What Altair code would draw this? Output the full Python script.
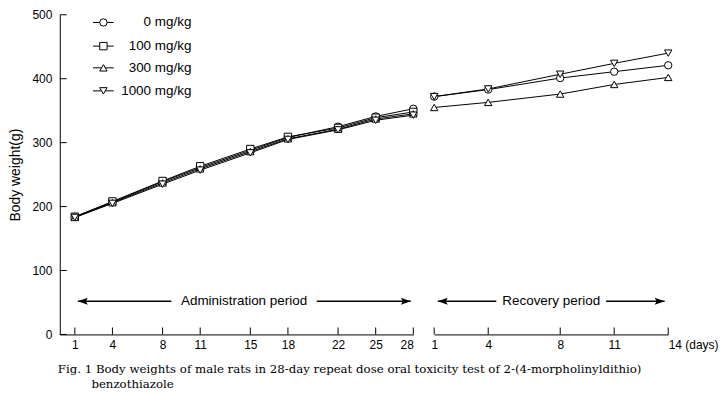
import altair as alt
import pandas as pd

doses = ["0 mg/kg", "100 mg/kg", "300 mg/kg", "1000 mg/kg"]
shapes = ["circle", "square", "triangle-up", "triangle-down"]

admin_days = [1, 4, 8, 11, 15, 18, 22, 25, 28]
admin_0 = [184, 207, 239, 261, 288, 308, 325, 341, 353]
admin_100 = [184, 208, 240, 263, 290, 309, 323, 339, 348]
admin_300 = [183, 206, 237, 259, 286, 306, 321, 337, 345]
admin_1000 = [183, 205, 235, 257, 284, 305, 320, 335, 343]

rec_days = [1, 4, 8, 11, 14]
rec_doses = ["0 mg/kg", "300 mg/kg", "1000 mg/kg"]
rec_0 = [372, 383, 401, 411, 421]
rec_300 = [355, 363, 376, 391, 402]
rec_1000 = [372, 384, 407, 424, 440]

y_ticks = [0, 100, 200, 300, 400, 500]

caption1 = "Fig. 1\u00a0Body weights of male rats in 28-day repeat dose oral toxicity test of 2-(4-morpholinyldithio)"
caption2 = "\u200b" + "\u00a0" * 9 + "benzothiazole"

# ---- tables ----
admin_rows = []
for d, vals in zip(doses, [admin_0, admin_100, admin_300, admin_1000]):
    for day, v in zip(admin_days, vals):
        admin_rows.append({"dose": d, "day": day, "weight": v})
admin_df = pd.DataFrame(admin_rows)

rec_rows = []
for d, vals in zip(rec_doses, [rec_0, rec_300, rec_1000]):
    for day, v in zip(rec_days, vals):
        rec_rows.append({"dose": d, "day": day, "weight": v})
rec_df = pd.DataFrame(rec_rows)

legend_df = pd.DataFrame({"dose": doses, "ly": [488, 451, 417, 381]})

W1, W2, H = 355, 235, 321
xs1 = alt.Scale(domain=[-0.2, 28], nice=False, zero=False)
xs2 = alt.Scale(domain=[1, 14], nice=False, zero=False)
ys = alt.Scale(domain=[0, 500], nice=False)
shape_scale = alt.Scale(domain=doses, range=shapes)

FONT = "Liberation Sans"

left_x_axis = alt.Axis(values=admin_days, ticks=False, tickSize=0, labelPadding=5,
                       grid=False, title=None, labelFontSize=12)
left_y_axis = alt.Axis(values=y_ticks, ticks=False, tickSize=0, labelPadding=8, grid=False,
                       title="Body weight(g)", titleFontSize=14, titleFontWeight="normal",
                       titlePadding=9, labelFontSize=12)

pt_kwargs = dict(filled=True, fill="white", stroke="black", strokeWidth=1, size=55, opacity=1)

base1 = alt.Chart(admin_df)
lines1 = base1.mark_line(color="black", strokeWidth=1).encode(
    x=alt.X("day:Q", scale=xs1, axis=left_x_axis),
    y=alt.Y("weight:Q", scale=ys, axis=left_y_axis),
    detail="dose:N",
)
points1 = base1.mark_point(**pt_kwargs).encode(
    x=alt.X("day:Q", scale=xs1),
    y=alt.Y("weight:Q", scale=ys),
    shape=alt.Shape("dose:N", scale=shape_scale, legend=None),
)

# legend (drawn by hand)
lbase = alt.Chart(legend_df)
leg_rule = lbase.mark_rule(color="black", strokeWidth=1).encode(
    x=alt.datum(2.45), x2=alt.datum(4.1), y=alt.Y("ly:Q", scale=ys))
leg_pt = lbase.mark_point(**pt_kwargs).encode(
    x=alt.datum(3.28), y=alt.Y("ly:Q", scale=ys),
    shape=alt.Shape("dose:N", scale=shape_scale, legend=None))
leg_txt = lbase.mark_text(align="right", baseline="middle", font=FONT, fontSize=13.5, color="black").encode(
    x=alt.datum(10.3), y=alt.Y("ly:Q", scale=ys), text="dose:N")

arrow_right = "M0,0L-2,-0.7L-1.6,0L-2,0.7Z"
arrow_left = "M0,0L2,-0.7L1.6,0L2,0.7Z"

def arrow_layers(x_left, x_text_l, x_text_r, x_right, x_mid, label, yv=52):
    one = alt.Chart(pd.DataFrame({"a": [0]}))
    r1 = one.mark_rule(color="black", strokeWidth=1.5).encode(
        x=alt.datum(x_left), x2=alt.datum(x_text_l), y=alt.datum(yv))
    r2 = one.mark_rule(color="black", strokeWidth=1.5).encode(
        x=alt.datum(x_text_r), x2=alt.datum(x_right), y=alt.datum(yv))
    h1 = one.mark_point(shape=arrow_left, filled=True, color="black", size=100, opacity=1).encode(
        x=alt.datum(x_left), y=alt.datum(yv))
    h2 = one.mark_point(shape=arrow_right, filled=True, color="black", size=100, opacity=1).encode(
        x=alt.datum(x_right), y=alt.datum(yv))
    t = one.mark_text(baseline="middle", align="center", font=FONT, fontSize=13.5, color="black").encode(
        x=alt.datum(x_mid), y=alt.datum(yv), text=alt.value(label))
    return [r1, r2, h1, h2, t]

# inward ticks
xt1 = alt.Chart(pd.DataFrame({"day": admin_days})).mark_tick(
    orient="vertical", size=7, thickness=1, color="black", opacity=1).encode(
    x=alt.X("day:Q", scale=xs1), y=alt.value(H - 3.5))
yt1 = alt.Chart(pd.DataFrame({"v": y_ticks})).mark_tick(
    orient="horizontal", size=7, thickness=1, color="black", opacity=1).encode(
    y=alt.Y("v:Q", scale=ys), x=alt.value(3.5))

left = alt.layer(
    lines1, points1, leg_rule, leg_pt, leg_txt,
    *arrow_layers(1.24, 8.7, 20.3, 27.8, 14.5, "Administration period"),
    xt1, yt1,
).properties(width=W1, height=H)

right_x_axis = alt.Axis(
    values=rec_days, ticks=False, tickSize=0, labelPadding=5, grid=False, title=None,
    labelFontSize=12,
    labelExpr="datum.value == 14 ? '14 (days)' : datum.label",
    labelAlign={"condition": {"test": "datum.value == 14", "value": "left"}, "value": "center"},
)

base2 = alt.Chart(rec_df)
lines2 = base2.mark_line(color="black", strokeWidth=1).encode(
    x=alt.X("day:Q", scale=xs2, axis=right_x_axis),
    y=alt.Y("weight:Q", scale=ys, axis=None),
    detail="dose:N",
)
points2 = base2.mark_point(**pt_kwargs).encode(
    x=alt.X("day:Q", scale=xs2),
    y=alt.Y("weight:Q", scale=ys),
    shape=alt.Shape("dose:N", scale=shape_scale, legend=None),
)
xt2 = alt.Chart(pd.DataFrame({"day": rec_days})).mark_tick(
    orient="vertical", size=7, thickness=1, color="black", opacity=1).encode(
    x=alt.X("day:Q", scale=xs2), y=alt.value(H - 3.5))

right = alt.layer(
    lines2, points2,
    *arrow_layers(1.2, 4.45, 10.55, 13.8, 7.5, "Recovery period"),
    xt2,
).properties(width=W2, height=H)

chart = alt.hconcat(left, right, spacing=21, bounds="flush").properties(
    title=alt.TitleParams(
        text=[caption1, caption2], orient="bottom", anchor="start",
        font="DejaVu Serif", fontSize=11.8, fontWeight="normal", color="black",
        offset=14, dx=49, lineHeight=15,
    ),
    padding=0,
).configure_view(stroke=None).configure_axis(
    domainColor="black", domainWidth=1, labelColor="black", titleColor="black",
    labelFont=FONT, titleFont=FONT,
).configure_concat(spacing=21)

chart.save("out.html", embed_options={"renderer": "svg", "actions": False})
